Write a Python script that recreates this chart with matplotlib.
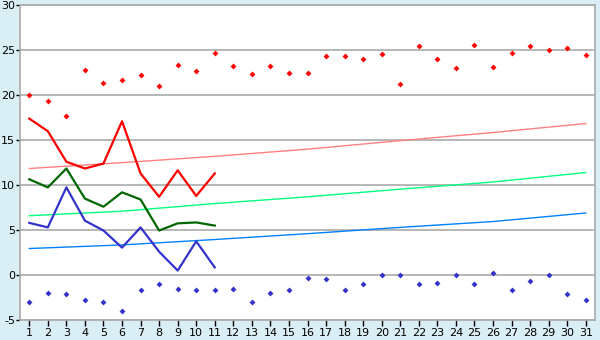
import numpy as np
import matplotlib as mpl
mpl.use("Agg")
import matplotlib.pyplot as plt

plt.rcParams["axes.unicode_minus"] = False

days = np.arange(1, 32)

# daily max / min (diamond markers)
t_max = [20.0, 19.4, 17.7, 22.85, 21.4, 21.7, 22.2, 21.0, 23.4, 22.7, 24.7,
         23.2, 22.4, 23.3, 22.5, 22.5, 24.4, 24.4, 24.0, 24.6, 21.2, 25.5,
         24.0, 23.0, 25.6, 23.1, 24.7, 25.5, 25.0, 25.2, 24.5]
t_min = [-3.0, -2.0, -2.15, -2.8, -3.0, -4.0, -1.7, -1.0, -1.5, -1.7, -1.7,
         -1.6, -3.0, -2.0, -1.7, -0.3, -0.4, -1.7, -1.0, 0.0, 0.0, -1.0,
         -0.9, 0.0, -1.0, 0.2, -1.7, -0.7, 0.0, -2.1, -2.8]

# forecast lines (days 1-11)
line_days = np.arange(1, 12)
line_max = [17.4, 16.0, 12.6, 11.85, 12.4, 17.1, 11.3, 8.7, 11.65, 8.8, 11.3]
line_mean = [10.65, 9.75, 11.85, 8.5, 7.6, 9.2, 8.4, 4.95, 5.75, 5.85, 5.5]
line_min = [5.8, 5.3, 9.75, 6.05, 4.95, 3.05, 5.3, 2.6, 0.5, 3.75, 0.85]

# normals
norm_days = [1, 6, 11, 16, 21, 26, 31]
norm_max = [11.85, 12.5, 13.2, 14.0, 14.95, 15.85, 16.85]
norm_mean = [6.6, 7.1, 7.95, 8.7, 9.55, 10.35, 11.4]
norm_min = [2.95, 3.35, 3.95, 4.6, 5.3, 5.95, 6.9]

bg = "#daeef5"
grid_c = "#aaaaaa"

fig = plt.figure(figsize=(6.0, 3.4), dpi=100, facecolor=bg)
ax = fig.add_axes([20 / 600, 20 / 340, 575 / 600, 314.7 / 340])
ax.set_facecolor("white")

ax.plot(norm_days, norm_max, color="#ff8080", lw=1.0, zorder=2)
ax.plot(norm_days, norm_mean, color="#00ff80", lw=1.0, zorder=2)
ax.plot(norm_days, norm_min, color="#0080ff", lw=1.0, zorder=2)

ax.plot(line_days, line_max, color="#ff0000", lw=1.6, zorder=3)
ax.plot(line_days, line_mean, color="#006600", lw=1.6, zorder=3)
ax.plot(line_days, line_min, color="#3333cc", lw=1.6, zorder=3)

ax.plot(days, t_max, ls="none", marker="D", ms=3, mew=0, color="#ff0000", zorder=4)
ax.plot(days, t_min, ls="none", marker="D", ms=3, mew=0, color="#3333cc", zorder=4)

ax.set_xlim(0.5, 31.5)
ax.set_ylim(-5, 30)
ax.set_xticks(days)
ax.set_yticks(np.arange(-5, 31, 5))
ax.grid(True, axis="y", color=grid_c, lw=1.2)
ax.set_axisbelow(True)
for s in ax.spines.values():
    s.set_color(grid_c)
    s.set_linewidth(1.2)
ax.tick_params(axis="y", labelsize=8, length=3, width=1, color="black", pad=0.5)
ax.tick_params(axis="x", labelsize=8, length=4, width=1, color="black", pad=1.5)

fig.savefig("out.png", dpi=100, facecolor=bg)
